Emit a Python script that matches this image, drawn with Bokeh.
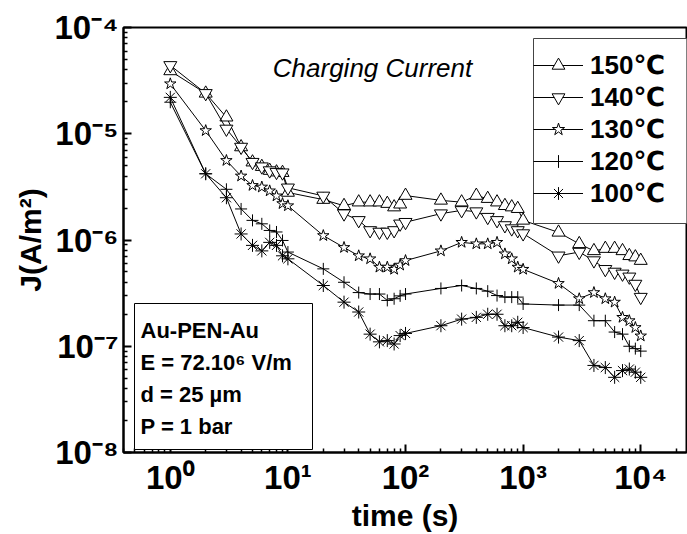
from bokeh.plotting import figure
from bokeh.models import Legend, LegendItem, Label, BoxAnnotation, FixedTicker
from bokeh.embed import file_html
from bokeh.resources import INLINE

FONT = "Liberation Sans"
LEGEND_FONT = "Liberation Sans, DejaVu Sans"

# ---- data ----
time_s = [1, 2, 3, 4, 5, 6, 7, 8, 9, 10,
          20, 30, 40, 50, 60, 70, 80, 90, 100,
          200, 300, 400, 500, 600, 700, 800, 900, 1000,
          2000, 3000, 4000, 5000, 6000, 7000, 8000, 9000, 10000]

J_150 = [3.9e-5, 2.4e-5, 1.43e-5, 7.5e-6, 5.4e-6, 4.9e-6, 4.5e-6, 4.35e-6, 4.3e-6, 2.8e-6,
         2.4e-6, 2.1e-6, 2.27e-6, 2.27e-6, 2.27e-6, 2.2e-6, 2.04e-6, 2.17e-6, 2.62e-6,
         2.36e-6, 2.27e-6, 2.62e-6, 2.45e-6, 2.27e-6, 2.1e-6, 2.04e-6, 1.97e-6, 1.53e-6,
         1.18e-6, 9.2e-7, 7.9e-7, 8.3e-7, 8.3e-7, 7.9e-7, 7.1e-7, 6.9e-7, 6.4e-7]

J_140 = [4.4e-5, 2.4e-5, 1.11e-5, 7.5e-6, 5.4e-6, 4.9e-6, 4.5e-6, 4.35e-6, 4.3e-6, 3.1e-6,
         2.6e-6, 1.77e-6, 1.53e-6, 1.23e-6, 1.19e-6, 1.19e-6, 1.23e-6, 1.42e-6, 1.47e-6,
         1.77e-6, 1.9e-6, 1.85e-6, 1.64e-6, 1.53e-6, 1.37e-6, 1.28e-6, 1.23e-6, 1.15e-6,
         7.1e-7, 7.7e-7, 6.4e-7, 5.3e-7, 5.0e-7, 4.8e-7, 4.5e-7, 3.85e-7, 2.9e-7]

J_130 = [2.95e-5, 1.07e-5, 5.6e-6, 4.0e-6, 3.26e-6, 3.15e-6, 2.9e-6, 2.6e-6, 2.2e-6, 2.1e-6,
         1.1e-6, 8.5e-7, 7.1e-7, 6.65e-7, 5.55e-7, 5.55e-7, 5.3e-7, 5.8e-7, 6.4e-7,
         7.9e-7, 9.5e-7, 9.2e-7, 9.2e-7, 9.5e-7, 7.4e-7, 6.65e-7, 5.55e-7, 5.3e-7,
         3.9e-7, 2.8e-7, 3.2e-7, 2.8e-7, 2.6e-7, 1.87e-7, 1.74e-7, 1.5e-7, 1.25e-7]

J_120 = [1.98e-5, 4.2e-6, 3.0e-6, 1.96e-6, 1.53e-6, 1.42e-6, 1.23e-6, 1.19e-6, 9.9e-7, 7.7e-7,
         5.35e-7, 4.0e-7, 3.2e-7, 3.1e-7, 3.1e-7, 2.7e-7, 2.8e-7, 2.98e-7, 3.1e-7,
         3.5e-7, 3.73e-7, 3.5e-7, 3.3e-7, 3.0e-7, 2.9e-7, 2.9e-7, 2.9e-7, 2.5e-7,
         2.44e-7, 2.44e-7, 1.74e-7, 1.74e-7, 1.36e-7, 1.3e-7, 1.0e-7, 9.5e-8, 9.0e-8]

J_100 = [2.2e-5, 4.2e-6, 2.5e-6, 1.14e-6, 8.9e-7, 7.9e-7, 9.5e-7, 8.9e-7, 7.1e-7, 6.65e-7,
         3.73e-7, 2.6e-7, 2.1e-7, 1.3e-7, 1.1e-7, 1.13e-7, 1.05e-7, 1.26e-7, 1.32e-7,
         1.56e-7, 1.8e-7, 1.87e-7, 2.0e-7, 2.0e-7, 1.56e-7, 1.56e-7, 1.68e-7, 1.5e-7,
         1.22e-7, 1.13e-7, 6.6e-8, 6.3e-8, 5.1e-8, 5.9e-8, 6.1e-8, 5.7e-8, 5.1e-8]

series_labels = ["150℃", "140℃", "130℃", "120℃", "100℃"]
series_values = [J_150, J_140, J_130, J_120, J_100]
series_markers = ["triangle", "inverted_triangle", "star", "cross", "asterisk"]
series_sizes = [13, 13, 12, 12, 13]

x_major = [1, 10, 100, 1000, 10000]
x_tick_labels = ["10⁰", "10¹", "10²", "10³", "10⁴"]
y_major = [1e-8, 1e-7, 1e-6, 1e-5, 1e-4]
y_tick_labels = ["10⁻⁸", "10⁻⁷", "10⁻⁶", "10⁻⁵", "10⁻⁴"]

x_minor = [m * d for d in [0.1, 1, 10, 100, 1000, 10000] for m in range(2, 10)]
y_minor = [m * d for d in [1e-9, 1e-8, 1e-7, 1e-6, 1e-5] for m in range(2, 10)]

info_lines = ["Au-PEN-Au", "E = 72.10⁶ V/m", "d = 25 µm", "P = 1 bar"]

# ---- figure ----
p = figure(width=687, height=534, x_axis_type="log", y_axis_type="log",
           x_range=(0.4, 2.45e4), y_range=(1e-8, 1e-4),
           output_backend="svg", toolbar_location=None,
           min_border_left=123, min_border_right=1, min_border_top=27, min_border_bottom=82)
p.grid.visible = False
p.outline_line_color = "black"
p.outline_line_width = 2
p.background_fill_color = "white"
p.border_fill_color = "white"

p.xaxis.ticker = FixedTicker(ticks=x_major, minor_ticks=x_minor)
p.yaxis.ticker = FixedTicker(ticks=y_major, minor_ticks=y_minor)
p.xaxis.major_label_overrides = dict(zip(x_major, x_tick_labels))
p.yaxis.major_label_overrides = dict(zip(y_major, y_tick_labels))

for ax in (p.xaxis[0], p.yaxis[0]):
    ax.axis_line_width = 2
    ax.axis_line_color = "black"
    ax.major_tick_in = 8
    ax.major_tick_out = 0
    ax.minor_tick_in = 4
    ax.minor_tick_out = 0
    ax.major_tick_line_width = 2
    ax.minor_tick_line_width = 1.5
    ax.major_tick_line_color = "black"
    ax.minor_tick_line_color = "black"
    ax.major_label_text_font = FONT
    ax.major_label_text_font_style = "bold"
    ax.major_label_text_font_size = "33px"
    ax.major_label_text_color = "black"
    ax.axis_label_text_font = FONT
    ax.axis_label_text_font_style = "bold"
    ax.axis_label_text_font_size = "30px"
    ax.axis_label_text_color = "black"

p.xaxis.axis_label = "time (s)"
p.yaxis.axis_label = "J(A/m²)"
p.xaxis.major_label_standoff = 6
p.xaxis.axis_label_standoff = 0
p.yaxis.major_label_standoff = 5
p.yaxis.axis_label_standoff = 4

items = []
for lab, vals, mk, sz in zip(series_labels, series_values, series_markers, series_sizes):
    rl = p.line(time_s, vals, line_color="black", line_width=1)
    rs = p.scatter(time_s, vals, marker=mk, size=sz, line_color="black",
                   fill_color="white", line_width=1)
    items.append(LegendItem(label=lab, renderers=[rl, rs]))

# legend frame (drawn as a box so the glyph lines can start at its edge)
p.add_layout(BoxAnnotation(left=410, right=566, bottom=229, top=414,
                           left_units="screen", right_units="screen",
                           top_units="screen", bottom_units="screen",
                           fill_color="white", fill_alpha=1,
                           line_color="#444444", line_width=1, line_alpha=1))
legend = Legend(items=items, location=(410, 243), margin=0, padding=0, spacing=0,
                glyph_width=50, glyph_height=32, label_height=32, label_width=80,
                label_standoff=7, label_text_font=LEGEND_FONT, label_text_font_style="bold",
                label_text_font_size="26px", label_text_baseline="middle",
                label_text_line_height=1.0, label_text_color="black",
                border_line_alpha=0, background_fill_alpha=0)
p.add_layout(legend)

p.add_layout(Label(x=249, y=385, x_units="screen", y_units="screen",
                   text="Charging Current", text_align="center", text_baseline="middle",
                   text_color="black",
                   text_font=FONT, text_font_style="italic", text_font_size="26px"))

p.add_layout(BoxAnnotation(left=11, right=189, bottom=3, top=149,
                           left_units="screen", right_units="screen",
                           top_units="screen", bottom_units="screen",
                           fill_color="white", fill_alpha=1,
                           line_color="black", line_width=1, line_alpha=1))
for i, txt in enumerate(info_lines):
    p.add_layout(Label(x=17, y=122 - 32 * i, x_units="screen", y_units="screen",
                       text=txt, text_baseline="middle", text_color="black",
                       text_font=FONT, text_font_style="bold", text_font_size="22px"))

open("out.html", "w").write(file_html(p, INLINE))
